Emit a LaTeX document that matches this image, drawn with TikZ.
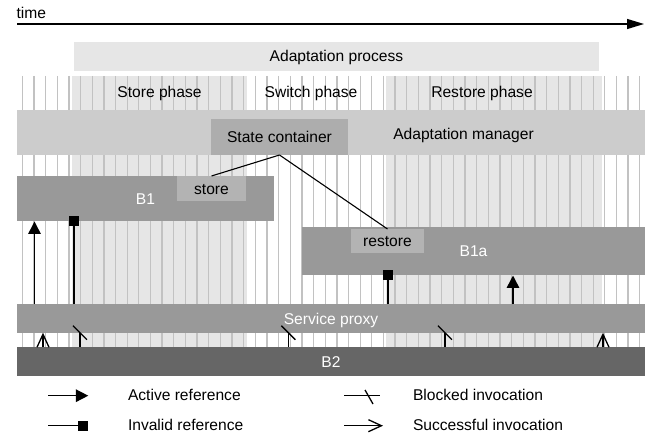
\documentclass[tikz,border=0pt]{standalone}
\usepackage{fontspec}
\setmainfont{Liberation Sans}
\usetikzlibrary{arrows.meta}
\definecolor{stripecol}{RGB}{194,194,194}
\definecolor{lightfill}{RGB}{230,230,230}
\definecolor{mgrcol}{RGB}{204,204,204}
\definecolor{sccol}{RGB}{173,173,173}
\definecolor{bcol}{RGB}{153,153,153}
\definecolor{opcol}{RGB}{179,179,179}
\definecolor{btwocol}{RGB}{102,102,102}
\tikzset{
  txt/.style={font=\fontsize{15.6}{18}\selectfont, inner sep=0pt, outer sep=0pt},
  box/.style={txt, draw=none, fill=#1, anchor=north west, text height=11.2pt, text depth=0pt},
  stripe/.style={draw=stripecol, line width=1.3pt},
  conn/.style={draw=black, line width=1.1pt},
  refline/.style={draw=black, line width=1.5pt},
  actref/.style={refline, -{Triangle[length=12.5pt,width=12.5pt]}},
  succ/.style={refline, -{Straight Barb[length=13pt,width=12pt,line width=1.3pt]}},
  sqr/.style={fill=black, minimum size=10pt, inner sep=0pt, outer sep=0pt},
}
\begin{document}
\begin{tikzpicture}[x=1pt,y=-1pt]
\useasboundingbox (0,0) rectangle (654,438);
\fill[white] (0,0) rectangle (654,438);
% phase fills
\fill[lightfill] (72,76) rectangle (246.5,347);
\fill[lightfill] (386,76) rectangle (602,347);
% stripes
\foreach \k in {0,...,53} {
  \draw[stripe] ({22.3+11.65*\k},76) -- ({22.3+11.65*\k},347);
}
% time axis
\coordinate (t0) at (17,24);
\coordinate (t1) at (644,24);
\draw[line width=1.2pt, -{Triangle[length=17pt,width=10pt]}] (t0) -- (t1);
\node[txt, anchor=base west] (time) at (16.5,18.3) {time};
% adaptation process
\node[box=lightfill, minimum width=525pt, minimum height=28.7pt] (aproc) at (74,42) {Adaptation process};
\node[txt, anchor=base] (storeph) at (159.5,97.3) {Store phase};
\node[txt, anchor=base] (switchph) at (311,97.3) {Switch phase};
\node[txt, anchor=base] (restoreph) at (482,97.3) {Restore phase};
% adaptation manager
\node[box=mgrcol, minimum width=628pt, minimum height=45pt] (mgr) at (17,110) {};
\node[txt, anchor=base] (mgrlabel) at (463.5,139.3) {Adaptation manager};
\node[box=sccol, minimum width=137pt, minimum height=36pt] (sc) at (211,119) {State container};
% B1
\node[box=bcol, text=white, minimum width=257pt, minimum height=45.5pt] (B1) at (17,176) {B1};
\node[box=opcol, minimum width=69pt, minimum height=25pt] (store) at (177,176) {store};
% B1a
\node[box=bcol, text=white, minimum width=343pt, minimum height=48.5pt] (B1a) at (302,227) {B1a};
\node[box=opcol, minimum width=73pt, minimum height=24pt] (restore) at (351,229) {restore};
% service proxy and B2
\node[box=bcol, text=white, minimum width=628pt, minimum height=28.4pt] (proxy) at (17,304.3) {Service proxy};
\node[box=btwocol, text=white, minimum width=628pt, minimum height=29pt] (B2) at (17,347) {B2};
% state transfer connectors
\draw[conn] (sc.south) -- (store.north);
\draw[conn] (sc.south) -- (restore.north);
% references
\coordinate (xa1) at (34.5,0);
\coordinate (xi1) at (74,0);
\coordinate (xa2) at (513,0);
\coordinate (xi2) at (388,0);
\draw[actref] (proxy.north -| xa1) -- (B1.south -| xa1);
\draw[refline] (proxy.north -| xi1) -- (B1.south -| xi1) node[sqr] (sq1) {};
\draw[actref] (proxy.north -| xa2) -- (B1a.south -| xa2);
\draw[refline] (proxy.north -| xi2) -- (B1a.south -| xi2) node[sqr] (sq2) {};
% invocations
\coordinate (xs1) at (43,0);
\coordinate (xs2) at (603,0);
\draw[succ] (B2.north -| xs1) -- (proxy.south -| xs1);
\draw[succ] (B2.north -| xs2) -- (proxy.south -| xs2);
\foreach \bx [count=\i] in {80,288.3,445} {
  \coordinate (xb\i) at (\bx,0);
  \draw[refline] (B2.north -| xb\i) -- (proxy.south -| xb\i) coordinate (bk\i);
  \draw[line width=1.3pt] ([shift={(-7,-7)}]bk\i) -- ([shift={(7,7)}]bk\i);
}
% legend
\coordinate (la) at (48,395.7);
\coordinate (lb) at (88.3,395.7);
\draw[actref] (la) -- (lb);
\node[txt, anchor=base west] (lgact) at (128,400.7) {Active reference};
\coordinate (lc) at (48,425.7);
\coordinate (ld) at (88.3,425.7);
\draw[refline] (lc) -- (ld) node[sqr, anchor=east] (lsq) {};
\node[txt, anchor=base west] (lginv) at (128,430.7) {Invalid reference};
\coordinate (le) at (344,395.7);
\coordinate (lf) at (380,395.7);
\draw[refline] (le) -- (lf);
\coordinate (lg) at (365,390);
\coordinate (lh) at (373,404);
\draw[line width=1.3pt] (lg) -- (lh);
\node[txt, anchor=base west] (lgblk) at (413,401) {Blocked invocation};
\coordinate (li) at (344,425.7);
\coordinate (lj) at (383,425.7);
\draw[succ] (li) -- (lj);
\node[txt, anchor=base west] (lgsuc) at (413,430.7) {Successful invocation};
\end{tikzpicture}
\end{document}
